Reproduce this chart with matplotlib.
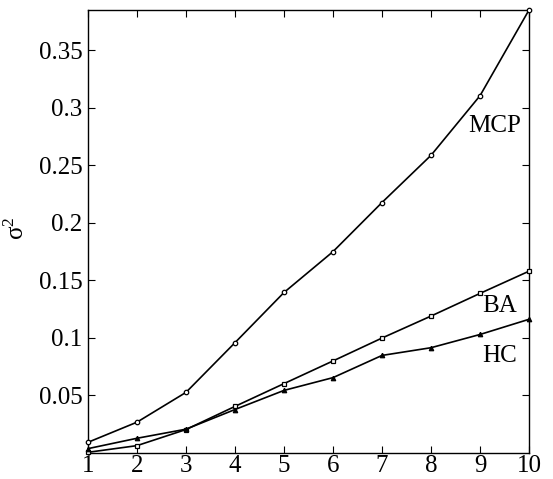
import matplotlib
matplotlib.use("Agg")
import matplotlib.pyplot as plt

plt.rcParams['font.family'] = ['Liberation Serif', 'DejaVu Serif']
plt.rcParams['mathtext.fontset'] = 'custom'
plt.rcParams['mathtext.rm'] = 'Liberation Serif'

x = [1, 2, 3, 4, 5, 6, 7, 8, 9, 10]
mcp = [0.0093, 0.0268, 0.0527, 0.0959, 0.1395, 0.175, 0.2177, 0.2587, 0.3105, 0.385]
ba = [0.0006, 0.0064, 0.0204, 0.0405, 0.0603, 0.080, 0.0999, 0.119, 0.1387, 0.158]
hc = [0.0038, 0.0128, 0.0207, 0.0378, 0.0544, 0.0655, 0.0848, 0.0915, 0.103, 0.1162]
yticks = [0.05, 0.1, 0.15, 0.2, 0.25, 0.3, 0.35]
ytick_labels = ['0.05', '0.1', '0.15', '0.2', '0.25', '0.3', '0.35']

fig = plt.figure(figsize=(5.53, 4.79), dpi=100)
ax = fig.add_axes([88/553, 26/479, 441/553, 443/479])

lw = 1.2
ax.plot(x, mcp, color='black', lw=lw, marker='o', ms=3.2, mfc='white', mew=0.9, clip_on=False, zorder=3)
ax.plot(x, ba, color='black', lw=lw, marker='s', ms=3.2, mfc='white', mew=0.9, clip_on=False, zorder=3)
ax.plot(x, hc, color='black', lw=lw, marker='^', ms=3.2, mfc='black', mew=0.9, clip_on=False, zorder=3)

ax.set_xlim(1, 10)
ax.set_ylim(0, 0.385)
ax.set_xticks(x)
ax.set_yticks(yticks)
ax.set_yticklabels(ytick_labels)
ax.tick_params(direction='in', top=True, right=True, length=5, width=0.8,
               labelsize=18, pad=4)
ax.tick_params(axis='x', pad=1.5)
for s in ax.spines.values():
    s.set_linewidth(1.0)

ax.text(9.29, 0.284, 'MCP', fontsize=18, ha='center', va='center')
ax.text(9.41, 0.1276, 'BA', fontsize=18, ha='center', va='center')
ax.text(9.41, 0.0839, 'HC', fontsize=18, ha='center', va='center')

fig.text(17/553, 1 - 228/479, r'$\mathregular{σ^2}$', fontsize=18, rotation=90,
         ha='center', va='center')

fig.savefig('out.png', dpi=100)
